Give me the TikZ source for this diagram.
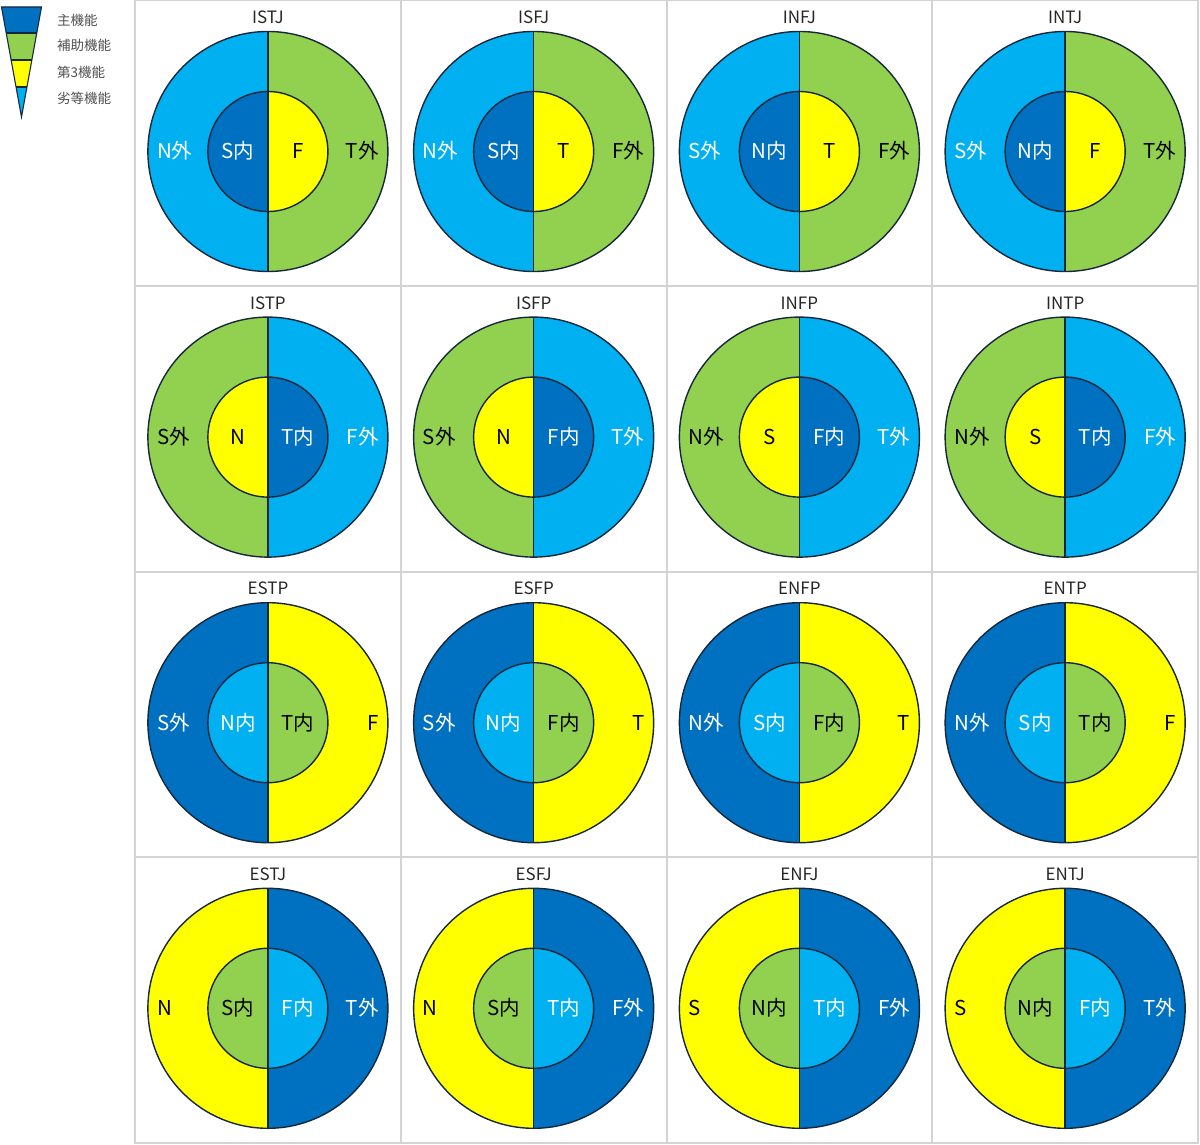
\documentclass[tikz,border=0pt]{standalone}
\usepackage{fontspec}
\setmainfont{Noto Sans CJK JP}
\usepackage{xcolor}
\usetikzlibrary{positioning,calc}

\definecolor{mainfn}{HTML}{0070C0}
\definecolor{auxfn}{HTML}{92D050}
\definecolor{thirdfn}{HTML}{FFFF00}
\definecolor{inffn}{HTML}{00B0F0}
\definecolor{rimline}{HTML}{16273B}
\definecolor{gridline}{HTML}{D3D3D3}
\definecolor{keytext}{HTML}{505050}
\colorlet{txmainfn}{white}
\colorlet{txinffn}{white}
\colorlet{txauxfn}{black}
\colorlet{txthirdfn}{black}

% colours of the four half rings, one set per row
\newcommand{\setscheme}[4]{\def\cLo{#1}\def\cRo{#2}\def\cLi{#3}\def\cRi{#4}}

% #1 type, #2 column, #3 row, #4-#7 labels (outer left, outer right, inner left, inner right)
\newcommand{\typecell}[7]{%
  \pgfmathsetmacro\cx{267.9+265.75*#2}
  \pgfmathsetmacro\cy{-(151.5+285.6*#3)}
  \pgfmathsetmacro\ty{-(23.5+285.6*#3)}
  \coordinate (#1) at (\cx,\cy);
  \coordinate (#1-top) at (\cx,\cy+120);
  \coordinate (#1-bot) at (\cx,\cy-120);
  \coordinate (#1-itop) at (\cx,\cy+60);
  \fill[fill=\cLo] (#1-top) arc[start angle=90,end angle=270,radius=120] -- cycle;
  \fill[fill=\cRo] (#1-top) arc[start angle=90,end angle=-90,radius=120] -- cycle;
  \fill[fill=\cLi] (#1-itop) arc[start angle=90,end angle=270,radius=60] -- cycle;
  \fill[fill=\cRi] (#1-itop) arc[start angle=90,end angle=-90,radius=60] -- cycle;
  \draw[rim] (#1) circle[radius=120] (#1) circle[radius=60];
  \draw[rim] (#1-top) -- (#1-bot);
  \node[ttl] (#1-ttl) at (\cx,\ty) {#1};
  \node[lbl, text=tx\cLo, anchor=base west] (#1-lo) at ($(#1)+(-111,-7.5)$) {#4};
  \node[lbl, text=tx\cRo, anchor=base east] (#1-ro) at ($(#1)+(111,-7.5)$) {#5};
  \node[lbl, text=tx\cLi, anchor=base] (#1-li) at ($(#1)+(-30,-7.5)$) {#6};
  \node[lbl, text=tx\cRi, anchor=base] (#1-ri) at ($(#1)+(30,-7.5)$) {#7};
}

\begin{document}
\begin{tikzpicture}[
  x=1pt, y=1pt,
  rim/.style={draw=rimline, line width=1.4pt},
  lbl/.style={inner sep=0pt, font=\fontsize{20.5}{24}\selectfont},
  ttl/.style={inner sep=0pt, anchor=base, text=black!85, font=\fontsize{17}{20}\selectfont},
  key/.style={inner sep=0pt, anchor=west, text=keytext, font=\fontsize{13.5}{16}\selectfont},
  wedge/.style={draw=rimline, line width=1.1pt}
]
  \useasboundingbox (0,0) rectangle (1200,-1145);

  % legend
  \coordinate (lt) at (1.5,-7);
  \coordinate (rt) at (41.5,-7);
  \coordinate (ap) at (21.5,-117);
  \coordinate (l1) at ($(lt)!0.236!(ap)$);
  \coordinate (r1) at ($(rt)!0.236!(ap)$);
  \coordinate (l2) at ($(lt)!0.482!(ap)$);
  \coordinate (r2) at ($(rt)!0.482!(ap)$);
  \coordinate (l3) at ($(lt)!0.727!(ap)$);
  \coordinate (r3) at ($(rt)!0.727!(ap)$);
  \fill[mainfn] (lt) -- (rt) -- (r1) -- (l1) -- cycle;
  \fill[auxfn] (l1) -- (r1) -- (r2) -- (l2) -- cycle;
  \fill[thirdfn] (l2) -- (r2) -- (r3) -- (l3) -- cycle;
  \fill[inffn] (l3) -- (r3) -- (ap) -- cycle;
  \draw[wedge] (l1) -- (r1) (l2) -- (r2) (l3) -- (r3);
  \draw[wedge, line join=miter] (lt) -- (rt) -- (ap) -- cycle;
  \node[key] (k1) at (57,-20) {主機能};
  \node[key] (k2) at (57,-45.5) {補助機能};
  \node[key] (k3) at (57,-72) {第3機能};
  \node[key] (k4) at (57,-98) {劣等機能};

  % grid
  \draw[gridline, line width=2pt] (135,-0.5) rectangle (1198,-1143);
  \foreach \i in {1,2,3} {
    \draw[gridline, line width=2pt] (135+265.75*\i,-0.5) -- (135+265.75*\i,-1143);
    \draw[gridline, line width=2pt] (135,-0.5-285.6*\i) -- (1198,-0.5-285.6*\i);
  }

  % introverted judging types
  \setscheme{inffn}{auxfn}{mainfn}{thirdfn}
  \typecell{ISTJ}{0}{0}{N外}{T外}{S内}{F}
  \typecell{ISFJ}{1}{0}{N外}{F外}{S内}{T}
  \typecell{INFJ}{2}{0}{S外}{F外}{N内}{T}
  \typecell{INTJ}{3}{0}{S外}{T外}{N内}{F}

  % introverted perceiving types
  \setscheme{auxfn}{inffn}{thirdfn}{mainfn}
  \typecell{ISTP}{0}{1}{S外}{F外}{N}{T内}
  \typecell{ISFP}{1}{1}{S外}{T外}{N}{F内}
  \typecell{INFP}{2}{1}{N外}{T外}{S}{F内}
  \typecell{INTP}{3}{1}{N外}{F外}{S}{T内}

  % extraverted perceiving types
  \setscheme{mainfn}{thirdfn}{inffn}{auxfn}
  \typecell{ESTP}{0}{2}{S外}{F}{N内}{T内}
  \typecell{ESFP}{1}{2}{S外}{T}{N内}{F内}
  \typecell{ENFP}{2}{2}{N外}{T}{S内}{F内}
  \typecell{ENTP}{3}{2}{N外}{F}{S内}{T内}

  % extraverted judging types
  \setscheme{thirdfn}{mainfn}{auxfn}{inffn}
  \typecell{ESTJ}{0}{3}{N}{T外}{S内}{F内}
  \typecell{ESFJ}{1}{3}{N}{F外}{S内}{T内}
  \typecell{ENFJ}{2}{3}{S}{F外}{N内}{T内}
  \typecell{ENTJ}{3}{3}{S}{T外}{N内}{F内}
\end{tikzpicture}
\end{document}
